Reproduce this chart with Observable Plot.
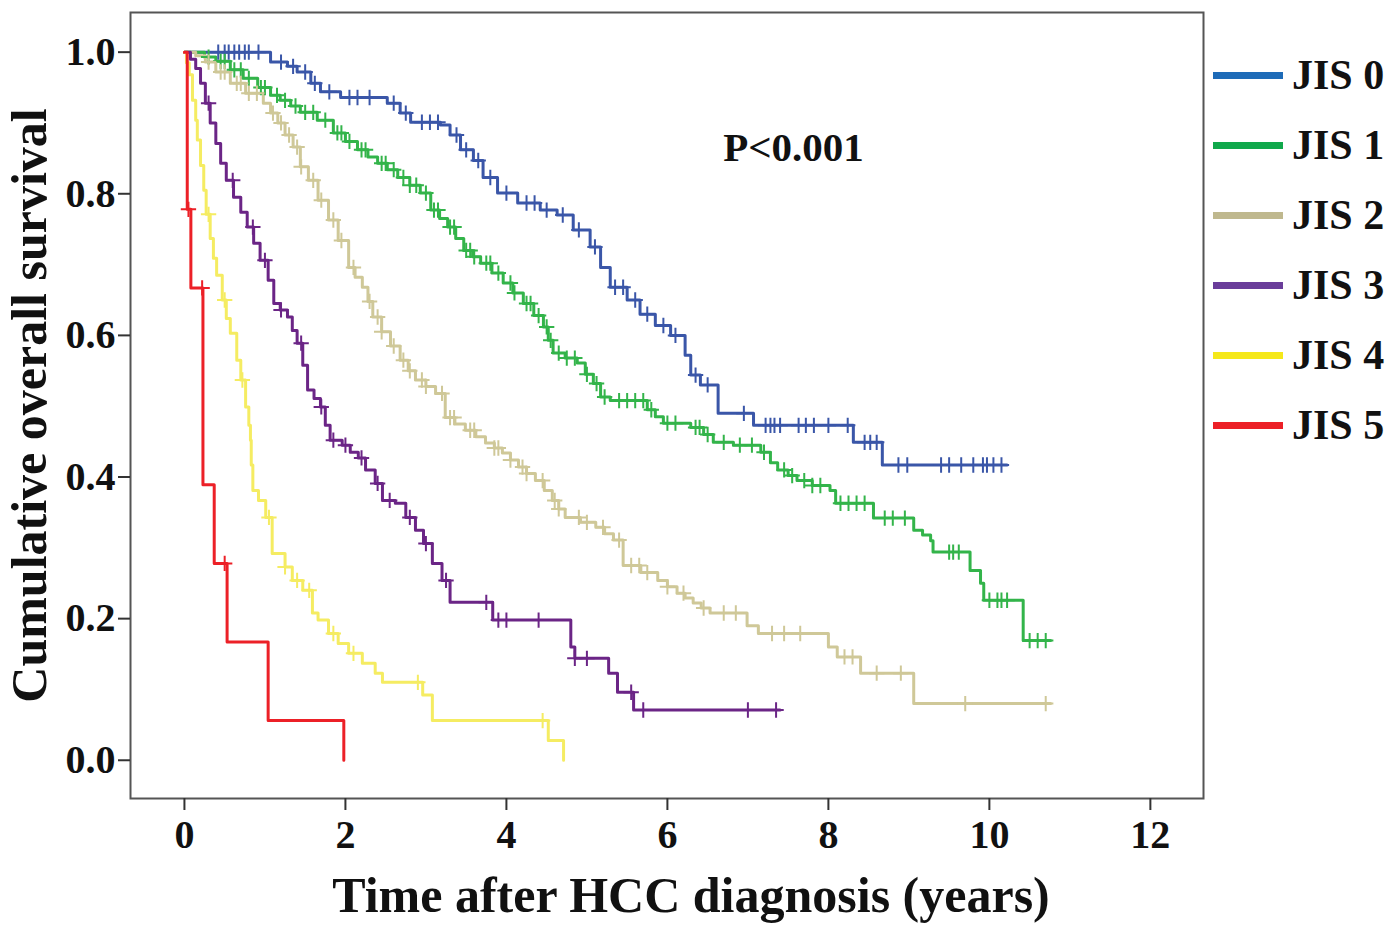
<!DOCTYPE html>
<html>
<head>
<meta charset="utf-8">
<script src="https://cdn.jsdelivr.net/npm/d3@7"></script>
<script src="https://cdn.jsdelivr.net/npm/@observablehq/plot@0.6"></script>
<style>
  body { margin: 0; background: #fff; }
  #chart { position: relative; width: 1393px; height: 934px; font-family: "Liberation Serif", "Times New Roman", serif; font-weight: bold; }
  #legend { position: absolute; left: 1213px; top: 40px; }
  .item { display: flex; align-items: center; height: 70px; }
  .swatch { width: 70px; height: 7px; margin-right: 9px; }
  .item span { font-size: 42px; line-height: 1; color: #111; }
</style>
</head>
<body>
<div id="chart"><div id="legend"></div></div>
<script>
// groups + colours
const groups = ['JIS 0', 'JIS 1', 'JIS 2', 'JIS 3', 'JIS 4', 'JIS 5']
const lineColors = ['#3a56a8', '#33b44a', '#cfc898', '#6b2586', '#f5ec62', '#ec2027']
const legendColors = ['#1e6bb8', '#10a84b', '#bfb88e', '#6a3d9a', '#f5e81a', '#ec2027']

const xTicks = [0, 2, 4, 6, 8, 10, 12]
const yTicks = [0, 0.2, 0.4, 0.6, 0.8, 1.0]

// Kaplan-Meier steps: time (years), survival from that time on
const jis0Time = [0, 0.98, 1.07, 1.28, 1.40, 1.57, 1.69, 1.94, 2.52, 2.68, 2.81, 3.18, 3.30, 3.43, 3.59, 3.71, 3.89, 4.14, 4.42, 4.63, 4.83, 5.04, 5.17, 5.29, 5.50, 5.66, 5.85, 6.04, 6.22, 6.29, 6.41, 6.63, 7.07, 8.31, 8.67, 10.22]
const jis0Surv = [1, 1, 0.986, 0.98, 0.972, 0.956, 0.944, 0.936, 0.928, 0.914, 0.901, 0.897, 0.883, 0.862, 0.847, 0.823, 0.801, 0.787, 0.777, 0.77, 0.749, 0.725, 0.696, 0.668, 0.65, 0.63, 0.614, 0.6, 0.572, 0.544, 0.53, 0.49, 0.473, 0.449, 0.417, 0.417]

const jis1Time = [0, 0.25, 0.39, 0.57, 0.73, 0.91, 1.07, 1.19, 1.32, 1.44, 1.65, 1.85, 2.00, 2.15, 2.28, 2.40, 2.52, 2.65, 2.80, 2.93, 3.06, 3.17, 3.27, 3.37, 3.47, 3.58, 3.68, 3.82, 3.96, 4.08, 4.21, 4.34, 4.46, 4.52, 4.58, 4.73, 4.88, 4.98, 5.08, 5.17, 5.29, 5.75, 5.85, 5.95, 6.29, 6.45, 6.57, 6.82, 7.16, 7.28, 7.37, 7.50, 7.61, 7.80, 8.02, 8.09, 8.56, 9.06, 9.17, 9.27, 9.30, 9.76, 9.89, 9.93, 10.42, 10.76]
const jis1Surv = [1, 0.993, 0.987, 0.975, 0.963, 0.95, 0.939, 0.932, 0.924, 0.915, 0.904, 0.886, 0.874, 0.862, 0.852, 0.843, 0.834, 0.823, 0.812, 0.801, 0.777, 0.765, 0.753, 0.737, 0.72, 0.711, 0.702, 0.688, 0.674, 0.66, 0.645, 0.628, 0.612, 0.593, 0.575, 0.568, 0.561, 0.545, 0.532, 0.513, 0.508, 0.495, 0.485, 0.476, 0.47, 0.46, 0.449, 0.445, 0.435, 0.42, 0.41, 0.402, 0.395, 0.388, 0.381, 0.363, 0.342, 0.325, 0.318, 0.31, 0.294, 0.268, 0.25, 0.226, 0.169, 0.169]

const jis2Time = [0, 0.14, 0.26, 0.39, 0.57, 0.76, 0.98, 1.07, 1.16, 1.25, 1.35, 1.44, 1.54, 1.66, 1.79, 1.91, 2.04, 2.12, 2.21, 2.28, 2.34, 2.45, 2.56, 2.68, 2.78, 2.87, 3.00, 3.12, 3.24, 3.36, 3.49, 3.62, 3.74, 3.85, 3.95, 4.05, 4.15, 4.25, 4.36, 4.47, 4.57, 4.65, 4.73, 4.92, 5.11, 5.22, 5.33, 5.45, 5.67, 5.88, 6.00, 6.12, 6.22, 6.32, 6.42, 6.53, 6.99, 7.13, 8.00, 8.11, 8.40, 9.06, 10.76]
const jis2Surv = [1, 0.995, 0.986, 0.972, 0.956, 0.942, 0.928, 0.914, 0.9, 0.883, 0.866, 0.838, 0.819, 0.791, 0.763, 0.734, 0.696, 0.682, 0.668, 0.648, 0.626, 0.605, 0.585, 0.565, 0.55, 0.537, 0.528, 0.518, 0.484, 0.475, 0.466, 0.457, 0.448, 0.441, 0.434, 0.424, 0.414, 0.405, 0.395, 0.381, 0.367, 0.355, 0.343, 0.336, 0.329, 0.32, 0.311, 0.275, 0.265, 0.254, 0.245, 0.236, 0.229, 0.222, 0.215, 0.208, 0.19, 0.179, 0.16, 0.146, 0.123, 0.08, 0.08]

const jis3Time = [0, 0.075, 0.14, 0.20, 0.26, 0.32, 0.39, 0.45, 0.52, 0.61, 0.70, 0.78, 0.86, 0.94, 1.04, 1.11, 1.19, 1.28, 1.34, 1.40, 1.47, 1.53, 1.61, 1.69, 1.75, 1.81, 1.96, 2.06, 2.16, 2.25, 2.37, 2.46, 2.62, 2.75, 2.87, 2.97, 3.08, 3.20, 3.30, 3.83, 4.80, 4.85, 5.27, 5.38, 5.58, 7.40]
const jis3Surv = [1, 0.99, 0.977, 0.956, 0.928, 0.9, 0.871, 0.843, 0.819, 0.795, 0.774, 0.753, 0.73, 0.706, 0.678, 0.645, 0.636, 0.626, 0.607, 0.589, 0.558, 0.523, 0.511, 0.499, 0.473, 0.452, 0.445, 0.435, 0.427, 0.41, 0.391, 0.367, 0.363, 0.343, 0.325, 0.306, 0.278, 0.254, 0.223, 0.198, 0.16, 0.144, 0.123, 0.096, 0.071, 0.071]

const jis4Time = [0, 0.025, 0.06, 0.10, 0.14, 0.16, 0.20, 0.24, 0.27, 0.32, 0.36, 0.40, 0.47, 0.52, 0.57, 0.65, 0.70, 0.76, 0.80, 0.82, 0.83, 0.85, 0.92, 1.01, 1.09, 1.25, 1.34, 1.47, 1.59, 1.66, 1.79, 1.91, 2.04, 2.21, 2.37, 2.46, 2.96, 3.08, 4.52, 4.71]
const jis4Surv = [1, 0.985, 0.968, 0.932, 0.904, 0.876, 0.84, 0.805, 0.771, 0.737, 0.709, 0.685, 0.65, 0.624, 0.603, 0.565, 0.537, 0.499, 0.473, 0.452, 0.417, 0.381, 0.367, 0.343, 0.292, 0.273, 0.254, 0.24, 0.208, 0.198, 0.179, 0.165, 0.151, 0.137, 0.123, 0.11, 0.092, 0.056, 0.028, 0]

const jis5Time = [0, 0.035, 0.08, 0.23, 0.37, 0.53, 1.04, 1.98]
const jis5Surv = [1, 0.778, 0.667, 0.389, 0.278, 0.167, 0.056, 0]

// censored cases (+ marks), times in years
const jis0Cens = [0.42, 0.5, 0.55, 0.62, 0.68, 0.75, 0.8, 0.92, 1.2, 1.35, 1.5, 1.62, 1.8, 2.05, 2.15, 2.3, 2.6, 2.75, 2.95, 3.05, 3.15, 3.38, 3.5, 3.65, 3.8, 4.0, 4.25, 4.35, 4.5, 4.7, 4.9, 5.1, 5.35, 5.45, 5.6, 5.75, 5.95, 6.1, 6.35, 6.5, 6.95, 7.22, 7.28, 7.33, 7.4, 7.63, 7.72, 7.82, 8.0, 8.24, 8.45, 8.52, 8.6, 8.87, 8.98, 9.4, 9.5, 9.65, 9.8, 9.92, 9.97, 10.05, 10.15]
const jis1Cens = [0.3, 0.45, 0.5, 0.62, 0.7, 0.8, 0.95, 1.0, 1.15, 1.25, 1.38, 1.5, 1.6, 1.75, 1.9, 1.95, 2.05, 2.2, 2.25, 2.45, 2.5, 2.6, 2.72, 2.8, 2.88, 3.0, 3.1, 3.15, 3.3, 3.35, 3.5, 3.55, 3.6, 3.75, 3.8, 3.9, 4.05, 4.1, 4.25, 4.3, 4.4, 4.5, 4.55, 4.65, 4.75, 4.85, 5.0, 5.12, 5.22, 5.4, 5.5, 5.6, 5.7, 5.8, 6.0, 6.1, 6.35, 6.4, 6.5, 6.7, 6.9, 7.05, 7.2, 7.45, 7.55, 7.7, 7.8, 7.9, 8.15, 8.25, 8.35, 8.45, 8.7, 8.8, 8.95, 9.5, 9.55, 9.62, 10.0, 10.1, 10.15, 10.22, 10.5, 10.6, 10.7]
const jis2Cens = [0.3, 0.45, 0.5, 0.65, 0.7, 0.8, 0.9, 1.1, 1.2, 1.3, 1.4, 1.45, 1.6, 1.7, 1.85, 1.95, 2.1, 2.3, 2.4, 2.45, 2.6, 2.72, 2.8, 2.95, 3.0, 3.2, 3.3, 3.35, 3.55, 3.6, 3.85, 3.9, 4.05, 4.2, 4.25, 4.45, 4.6, 4.65, 4.9, 5.0, 5.2, 5.4, 5.55, 5.65, 5.75, 6.0, 6.2, 6.45, 6.7, 6.85, 7.3, 7.45, 7.65, 8.2, 8.3, 8.6, 8.9, 9.7, 10.7]
const jis3Cens = [0.3, 0.6, 0.85, 1.0, 1.2, 1.45, 1.7, 1.85, 2.0, 2.2, 2.4, 2.55, 2.8, 3.0, 3.25, 3.75, 3.9, 4.0, 4.4, 4.85, 5.0, 5.55, 5.7, 7.0, 7.35]
const jis4Cens = [0.3, 0.5, 0.72, 1.05, 1.25, 1.4, 1.55, 1.85, 2.1, 2.9, 4.45]
const jis5Cens = [0.05, 0.22, 0.5]

const times = [jis0Time, jis1Time, jis2Time, jis3Time, jis4Time, jis5Time]
const survs = [jis0Surv, jis1Surv, jis2Surv, jis3Surv, jis4Surv, jis5Surv]
const cens = [jis0Cens, jis1Cens, jis2Cens, jis3Cens, jis4Cens, jis5Cens]

const survRows = groups.flatMap((g, i) => times[i].map((t, j) => ({ group: g, t, s: survs[i][j] })))

// the + sits on the curve: survival at that time
function survAt(i, t) {
  let s = survs[i][0]
  times[i].forEach((tt, j) => { if (tt <= t) s = survs[i][j] })
  return s
}
const censRows = groups.flatMap((g, i) => cens[i].map(t => ({ group: g, t, s: survAt(i, t) })))

let chart = Plot.plot({
  width: 1393,
  height: 934,
  marginLeft: 130,
  marginRight: 190,
  marginTop: 12,
  marginBottom: 136,
  style: { fontFamily: '"Liberation Serif", "Times New Roman", serif', fontWeight: 'bold', fontSize: '40px', color: '#111', background: 'white', overflow: 'visible' },
  x: { domain: [-0.67, 12.66] },
  y: { domain: [-0.054, 1.056] },
  color: { domain: groups, range: lineColors },
  marks: [
    Plot.frame({ stroke: '#555', strokeWidth: 2 }),
    Plot.axisX({ ticks: xTicks, tickSize: 12, tickPadding: 9, label: null, strokeWidth: 2, stroke: '#333' }),
    Plot.axisY({ ticks: yTicks, tickFormat: d3.format('.1f'), tickSize: 12, tickPadding: 3, label: null, strokeWidth: 2, stroke: '#333' }),
    Plot.line(survRows, { x: 't', y: 's', z: 'group', stroke: 'group', curve: 'step-after', strokeWidth: 3 }),
    Plot.dot(censRows, { x: 't', y: 's', stroke: 'group', symbol: 'plus', r: 5, strokeWidth: 2 }),
    Plot.text(['P<0.001'], { frameAnchor: 'top-left', dx: 663, dy: 119, textAnchor: 'middle', fontSize: 41, fill: '#111' }),
    Plot.text(['Time after HCC diagnosis (years)'], { frameAnchor: 'bottom', dx: 24, dy: 113, fontSize: 50, fill: '#111' }),
    Plot.text(['Cumulative overall survival'], { frameAnchor: 'left', dx: -101, rotate: -90, textAnchor: 'middle', fontSize: 50, fill: '#111' }),
  ],
})

d3.select('#chart').insert(() => chart, '#legend')

// legend to the right of the frame
const legend = d3.select('#legend')
groups.forEach((g, i) => {
  const row = legend.append('div').attr('class', 'item')
  row.append('div').attr('class', 'swatch').style('background', legendColors[i])
  row.append('span').text(g)
})
</script>
</body>
</html>
